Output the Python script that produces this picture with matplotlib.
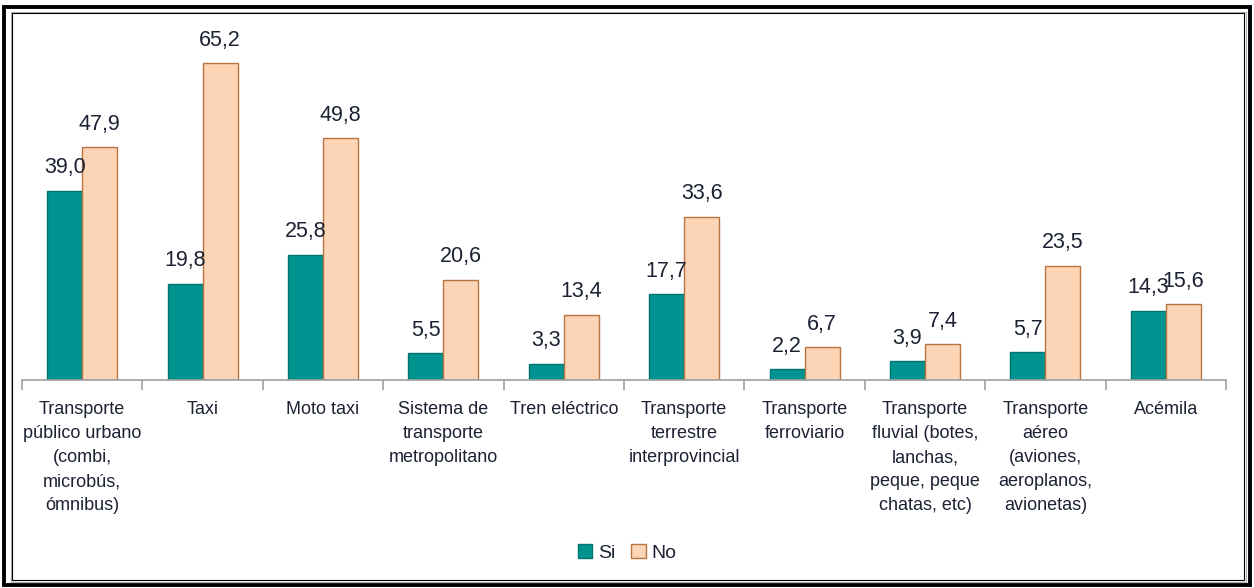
import numpy as np
import matplotlib.pyplot as plt
from matplotlib.patches import Rectangle

plt.rcParams['font.family'] = ['Liberation Sans', 'DejaVu Sans']

categories = ['Transporte\npúblico urbano\n(combi,\nmicrobús,\nómnibus)',
              'Taxi',
              'Moto taxi',
              'Sistema de\ntransporte\nmetropolitano',
              'Tren eléctrico',
              'Transporte\nterrestre\ninterprovincial',
              'Transporte\nferroviario',
              'Transporte\nfluvial (botes,\nlanchas,\npeque, peque\nchatas, etc)',
              'Transporte\naéreo\n(aviones,\naeroplanos,\navionetas)',
              'Acémila']
si = [39.0, 19.8, 25.8, 5.5, 3.3, 17.7, 2.2, 3.9, 5.7, 14.3]
no = [47.9, 65.2, 49.8, 20.6, 13.4, 33.6, 6.7, 7.4, 23.5, 15.6]

W, H = 1254, 588
fig = plt.figure(figsize=(W / 100, H / 100), dpi=100)
ax = fig.add_axes([22 / W, (H - 380) / H, 1204 / W, 340 / H])

txt = '#1c2233'
x = np.arange(len(categories))
bw = 0.29
b1 = ax.bar(x - bw / 2, si, bw, color='#009490', edgecolor='#007370', linewidth=1, label='Si')
b2 = ax.bar(x + bw / 2, no, bw, color='#fbd5b5', edgecolor='#b8743e', linewidth=1, label='No')

for bars, vals in [(b1, si), (b2, no)]:
    for b, v in zip(bars, vals):
        ax.annotate(f'{v:.1f}'.replace('.', ','), (b.get_x() + b.get_width() / 2, v),
                    xytext=(0, 9), textcoords='offset points', ha='center', va='bottom',
                    fontsize=15.5, color=txt)

ax.set_xlim(-0.5, len(categories) - 0.5)
ax.set_ylim(0, 70)
ax.set_xticks(x)
ax.set_xticklabels(categories, fontsize=13, color=txt, linespacing=1.55)
ax.tick_params(axis='x', which='major', length=0, pad=15)
ax.set_xticks(np.arange(len(categories) + 1) - 0.5, minor=True)
ax.tick_params(axis='x', which='minor', length=7, color='#a0a0a0', width=1.2)
ax.set_yticks([])
for s in ['top', 'right', 'left']:
    ax.spines[s].set_visible(False)
ax.spines['bottom'].set_color('#a0a0a0')
ax.spines['bottom'].set_linewidth(1.2)

fig.legend(handles=[b1, b2], labels=['Si', 'No'], loc='center', bbox_to_anchor=(627 / W, 1 - 553 / H),
           ncol=2, frameon=False, fontsize=14, handlelength=0.75, handleheight=0.75,
           handletextpad=0.3, columnspacing=0.8, labelcolor=txt)

# double frame around the image
def frame(x0, y0, x1, y1, lw, color):
    fig.patches.append(Rectangle((x0 / W, 1 - y1 / H), (x1 - x0) / W, (y1 - y0) / H,
                                 transform=fig.transFigure, fill=False, lw=lw, ec=color))

frame(4, 7, 1250, 585, 2.8, 'black')
frame(10.5, 11.5, 1245.5, 581.5, 0.8, '#b0b0b0')
frame(12, 13, 1244, 580, 0.8, 'black')

plt.savefig('out.png', dpi=100)
